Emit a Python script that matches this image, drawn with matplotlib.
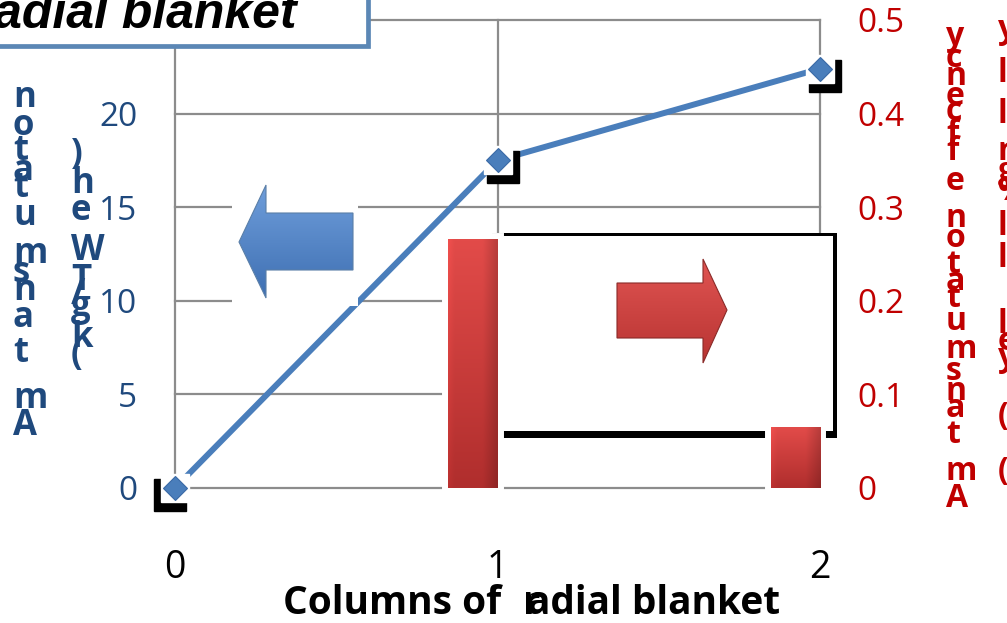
import numpy as np
import matplotlib
matplotlib.use("Agg")
import matplotlib.pyplot as plt
from matplotlib.patches import Rectangle, Polygon
from matplotlib.colors import to_rgb
import matplotlib.transforms as mtransforms

# ---- data -------------------------------------------------------------
columns = [0, 1, 2]
transmutation = [0.0, 17.5, 22.4]          # left axis, kg/TWeh
bar_columns = [1, 2]
efficiency = [0.266, 0.065]                # right axis
left_ticks = [0, 5, 10, 15, 20, 25]
right_ticks = [0, 0.1, 0.2, 0.3, 0.4, 0.5]
right_tick_labels = ["0", "0.1", "0.2", "0.3", "0.4", "0.5"]
x_ticks = [0, 1, 2]
x_tick_labels = ["0", "1", "2"]

# ---- style ------------------------------------------------------------
W, H, DPI = 1007, 623, 100
BLUE_TEXT = "#1F497D"
RED_TEXT = "#C00000"
LINE_BLUE = "#4A7EBB"
GRID = "#8C8C8C"
FONT = "Open Sans"

fig = plt.figure(figsize=(W / DPI, H / DPI), dpi=DPI)
fig.patch.set_facecolor("white")


def fx(px):
    return px / W


def fy(py):
    return 1 - py / H


def vgrad(top, bottom, n=64, side_shade=0.0):
    t = np.linspace(0, 1, n)[:, None, None]
    c0 = np.array(to_rgb(top))[None, None, :]
    c1 = np.array(to_rgb(bottom))[None, None, :]
    img = (1 - t) * c0 + t * c1
    img = np.repeat(img, 32, axis=1)
    if side_shade:
        s = np.linspace(0, 1, 32)
        f = 1 - side_shade * np.clip((s - 0.7) / 0.3, 0, 1) + 0.06 * np.clip((0.12 - s) / 0.12, 0, 1)
        img = np.clip(img * f[None, :, None], 0, 1)
    return img


# ---- main axes: line on the left scale ----------------------------------
L, R, T, B = 175, 820, 20, 488
ax = fig.add_axes([fx(L), fy(B), fx(R) - fx(L), fy(T) - fy(B)])
ax.set_zorder(1)
ax.set_xlim(0, 2)
ax.set_ylim(0, 25)
for s in ax.spines.values():
    s.set_visible(False)
ax.set_xticks(x_ticks, x_tick_labels)
ax.set_yticks(left_ticks)
ax.grid(True, color=GRID, linewidth=1.6)
ax.set_axisbelow(True)
for gl in ax.get_xgridlines() + ax.get_ygridlines():
    gl.set_clip_on(False)
ax.tick_params(axis="both", length=0)
ax.tick_params(axis="y", pad=27, labelsize=24, labelcolor=BLUE_TEXT)
ax.tick_params(axis="x", pad=44, labelsize=27, labelcolor="black")
for lab in ax.get_xticklabels() + ax.get_yticklabels():
    lab.set_fontfamily(FONT)

ax.plot(columns, transmutation, color=LINE_BLUE, lw=4.3, zorder=3,
        solid_capstyle="butt", clip_on=False)

# framed diamond markers with a dark drop shadow
for xi, yi in zip(columns, transmutation):
    dx = -5 if xi == columns[0] else 5
    sh = mtransforms.offset_copy(ax.transData, fig=fig, x=dx, y=-7, units="dots")
    ax.plot([xi], [yi], marker="s", ms=22.5, color="black", mec="black",
            transform=sh, zorder=4, clip_on=False)
    ax.plot([xi], [yi], marker="s", ms=19.5, color="white", mec="white",
            zorder=5, clip_on=False)
    ax.plot([xi], [yi], marker="D", ms=12.5, color=LINE_BLUE, mec="#3A6AA6",
            mew=0.8, zorder=6, clip_on=False)

# ---- overlay for boxes and arrows (pixel coordinates) --------------------
ov = fig.add_axes([0, 0, 1, 1])
ov.set_zorder(2)
ov.patch.set_visible(False)
ov.axis("off")


def grad_poly(pts, top, bottom, z, edge=None):
    poly = Polygon(pts, closed=True, facecolor="none",
                   edgecolor=edge if edge else "none", lw=0.8, zorder=z + 0.1)
    ov.add_patch(poly)
    xs = [p[0] for p in pts]
    ys = [p[1] for p in pts]
    im = ov.imshow(vgrad(top, bottom), extent=(min(xs), max(xs), max(ys), min(ys)),
                   origin="upper", aspect="auto", zorder=z, interpolation="bilinear")
    im.set_clip_path(poly)


# white backing behind the blue arrow
ov.add_patch(Rectangle((232, 170), 126, 136, facecolor="white", edgecolor="none", zorder=1))
grad_poly([(239, 242), (266, 185), (266, 213), (353, 213), (353, 270), (266, 270), (266, 298)],
          "#6F9EDB", "#3E6FB2", 2, edge="#5A7FA8")

# framed panel behind the red arrow
ov.add_patch(Rectangle((492, 233), 345, 205, facecolor="white", edgecolor="none", zorder=1))
ov.add_patch(Rectangle((492, 233), 345, 2.5, facecolor="black", edgecolor="none", zorder=1.5))
ov.add_patch(Rectangle((833, 233), 4, 205, facecolor="black", edgecolor="none", zorder=1.5))
ov.add_patch(Rectangle((492, 431), 345, 7, facecolor="black", edgecolor="none", zorder=1.5))
grad_poly([(727, 310), (703, 259), (703, 283), (617, 283), (617, 338), (703, 338), (703, 363)],
          "#E05452", "#B83432", 2, edge="#8A2A28")

# title panel
ov.add_patch(Rectangle((-20, -20), 387.5, 66, facecolor="white", edgecolor="#5B87B5",
                       lw=3.4, zorder=3))
ov.text(297, 28, "Radial blanket", ha="right", va="baseline", fontsize=36,
        fontweight="bold", fontstyle="italic", family="Liberation Sans",
        color="black", zorder=4)

ov.set_xlim(0, W)
ov.set_ylim(H, 0)

# ---- twin axes: bars on the right scale ---------------------------------
ax2 = ax.twinx()
ax2.set_zorder(3)
ax2.patch.set_visible(False)
for s in ax2.spines.values():
    s.set_visible(False)
ax2.set_yticks(right_ticks, right_tick_labels)
ax2.tick_params(axis="y", length=0, pad=27, labelsize=24, labelcolor=RED_TEXT)
for lab in ax2.get_yticklabels():
    lab.set_fontfamily(FONT)

bar_w = -0.153
bars = ax2.bar(bar_columns, efficiency, width=bar_w, align="edge", color="#C0403E",
               edgecolor="white", linewidth=8.6, zorder=2, clip_on=False)
for b in bars:
    x0 = b.get_x()
    x1 = x0 + b.get_width()
    im = ax2.imshow(vgrad("#E24B49", "#B02E2D", side_shade=0.18),
                    extent=(min(x0, x1), max(x0, x1), 0, b.get_height()),
                    origin="upper", aspect="auto", zorder=3, interpolation="bilinear")
    im.set_clip_on(False)
    im.set_clip_path(b)
ax2.set_xlim(0, 2)
ax2.set_ylim(0, 0.5)

# ---- axis titles, drawn glyph by glyph ---------------------------------
left_title_1 = [("n", 107), ("o", 135), ("t", 160), ("a", 180), ("t", 197), ("u", 225),
                ("m", 263), ("s", 282), ("n", 300), ("a", 327), ("t", 362), ("m", 408),
                ("A", 435)]
left_title_2 = [(")", 164), ("h", 193), ("e", 220), ("W", 260), ("T", 290), ("/", 304),
                ("g", 316), ("k", 347), ("(", 365)]
right_title_1 = [("y", 45), ("c", 67), ("n", 85), ("e", 105), ("c", 120), ("f", 143),
                 ("f", 160), ("e", 190), ("n", 227), ("o", 247), ("t", 273), ("a", 290),
                 ("t", 307), ("u", 330), ("m", 358), ("s", 380), ("n", 400), ("a", 417),
                 ("t", 443), ("m", 480), ("A", 507)]
right_title_2 = [("y", 38), ("l", 82), ("l", 123), ("n", 160), ("g", 180), ("%", 200),
                 ("l", 235), ("l", 267), ("l", 333), ("e", 350), ("y", 366), ("(", 425),
                 ("(", 480)]


def stack(glyphs, x, color, size=24):
    for ch, base in glyphs:
        fig.text(fx(x), fy(base), ch, ha="left", va="baseline", fontsize=size,
                 fontweight="bold", family=FONT, color=color, zorder=6)


stack(left_title_1, 13, BLUE_TEXT, 25)
stack(left_title_2, 71, BLUE_TEXT, 25)
stack(right_title_1, 946, RED_TEXT, 23)
stack(right_title_2, 998, RED_TEXT, 23)

# x axis title
fig.text(fx(283), fy(614), "Columns of", ha="left", va="baseline", fontsize=28,
         fontweight="bold", family=FONT, color="black", zorder=6)
fig.text(fx(523), fy(614), "r", ha="left", va="baseline", fontsize=28,
         fontweight="bold", family=FONT, color="black", zorder=6)
fig.text(fx(527), fy(614), "adial blanket", ha="left", va="baseline", fontsize=28,
         fontweight="bold", family=FONT, color="black", zorder=6)

fig.savefig("out.png", dpi=DPI)
